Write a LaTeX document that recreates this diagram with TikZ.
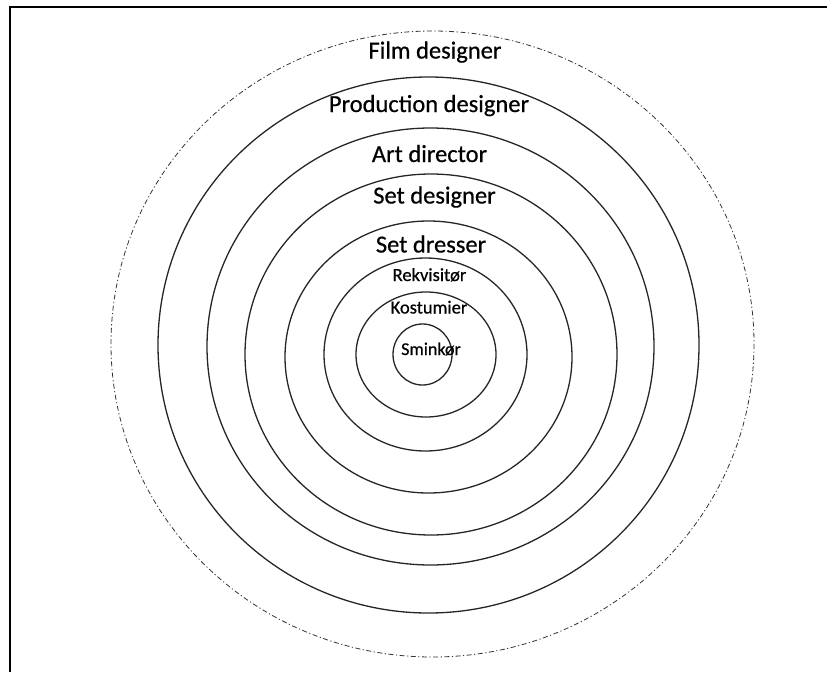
\documentclass[tikz,border=0pt]{standalone}
\usepackage{fontspec}
\setmainfont[FakeBold=0.6]{Carlito}
\begin{document}
\begin{tikzpicture}[x=1pt,y=-1pt,
  ring/.style={draw=black!85, line width=1.3pt},
  outerring/.style={draw=black!80, line width=0.8pt, dash pattern=on 5pt off 2.5pt on 1.2pt off 2.5pt},
  bigtxt/.style={anchor=base, inner sep=0pt, font=\fontsize{24.5}{26}\selectfont},
  smalltxt/.style={anchor=base, inner sep=0pt, font=\fontsize{18.5}{20}\selectfont},
  tinytxt/.style={anchor=base, inner sep=0pt, font=\fontsize{18}{20}\selectfont},
  frameline/.style={draw=black, line width=2.6pt}]
\useasboundingbox (0,0) rectangle (827,672);
% frame (top and left edges visible)
\draw[frameline] (10,672) -- (10,7) -- (827,7);
% rings
\draw[outerring] (432.5,344) ellipse [x radius=321.5, y radius=313];
\draw[ring] (428.5,345) ellipse [x radius=270.5, y radius=268];
\draw[ring] (430.5,346.5) ellipse [x radius=223.5, y radius=218.5];
\draw[ring] (431,354.5) ellipse [x radius=186, y radius=180.5];
\draw[ring] (428.5,357) ellipse [x radius=143.5, y radius=136];
\draw[ring] (425.5,354.5) ellipse [x radius=101.5, y radius=96.5];
\draw[ring] (426,354.5) ellipse [x radius=70, y radius=62.5];
\draw[ring] (422.5,354.5) ellipse [x radius=29.5, y radius=30.5];
% labels
\node[bigtxt] (film) at (435,58.5) {Film designer};
\node[bigtxt] (prod) at (429,112) {Production designer};
\node[bigtxt] (art) at (429.5,162) {Art director};
\node[bigtxt] (setdes) at (434.5,203.5) {Set designer};
\node[bigtxt] (setdr) at (431,252.5) {Set dresser};
\node[smalltxt] (rekv) at (429.5,281) {Rekvisitør};
\node[smalltxt] (kost) at (429,313.5) {Kostumier};
\node[tinytxt] (smink) at (431,355) {Sminkør};
\end{tikzpicture}
\end{document}
